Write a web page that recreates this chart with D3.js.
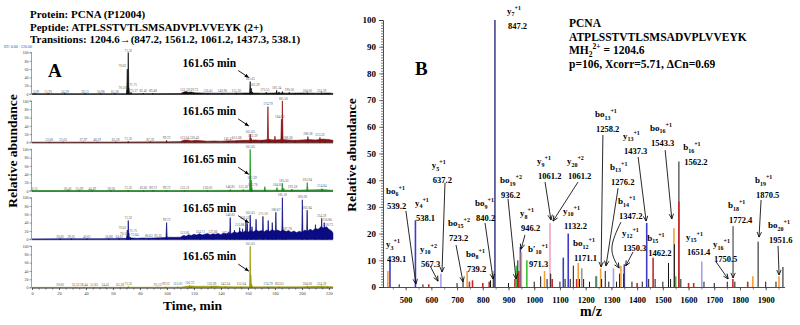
<!DOCTYPE html>
<html>
<head>
<meta charset="utf-8">
<script src="https://cdn.jsdelivr.net/npm/d3@7/dist/d3.min.js"></script>
<style>
html,body{margin:0;padding:0;background:#fff;}
svg{display:block;}
text{font-family:"Liberation Serif","Times New Roman",Times,serif;}
</style>
</head>
<body>
<svg id="chart" width="800" height="325"></svg>
<script>
// ================= DATA =================
const titleLines = [
  'Protein: PCNA (P12004)',
  'Peptide: ATPLSSTVTLSMSADVPLVVEYK (2+)',
  'Transitions: 1204.6\u2192(847.2, 1561.2, 1061.2, 1437.3, 538.1)'
];
const timeTicks = [0,20,40,60,80,100,120,140,160,180,200,220];
const abundTicks = [0,20,40,60,80,100];
const targetTime = 161.65;
const targetLabel = '161.65 min';

// chromatogram peaks: [time (min), relative abundance (%)]
const chromPeaks1 = [[2.09,0.8],[11.93,0.8],[24.39,0.8],[39.13,0.8],[50.96,0.8],[61.38,0.8],
  [70.50,10],[70.62,60],[71.32,100],[71.71,15],[73.37,4],[82.42,1.5],[89.48,1.5],
  [113.12,5],[115,4],[119.72,3],[130.41,2],[140.96,2],[151.30,3],[158,2],
  [161.65,30],[162.39,14],[163.2,5],[173.55,4],[181.24,9],[183,5],[185.5,6],
  [190.56,4],[195,2],[204.00,3],[214.59,3],[218,2]];
const chromPeaks2 = [[12.68,0.8],[23.03,0.8],[37.97,0.8],[48.29,0.8],[62,1.5],[71.32,3],
  [87.59,2],[99.72,5],[113.04,6],[120.45,4],[145.47,3],[151.68,4],[161.65,20],[162.39,10],
  [170,6],[174.79,86],[176,8],[180,15],[184.83,56],[185.50,100],[188.38,6],[195,5],
  [204.4,14],[213.33,12],[217,6]];
const chromPeaks3 = [[0.15,0.8],[26.40,0.8],[35.09,0.8],[44.49,0.8],[58.56,0.8],
  [71.32,2],[82.62,1],[89.73,1],[99.72,1.5],[113.12,1.5],[130.02,1],[146.85,3],[156.5,3],
  [161.65,100],[162.39,26],[162.78,9],[172.5,10],[181.5,8],[185.50,18],[186.5,6],
  [192.58,4],[203.94,20],[214.84,5]];
const chromPeaks4 = [[20.82,0.8],[29.05,0.8],[40.61,0.8],[56.88,1],[64.65,1],[70.50,8],
  [70.62,22],[71.32,45],[71.71,15],[72.84,5],[86.63,3],[93.32,3],[99.72,40],[113.06,9],
  [124.71,12],[134,12],[144,10],[146.85,52],[150,22],[153.86,28],[156,25],
  [158.52,45],[159.5,38],[161.65,58],[163,30],[166,48],[171.10,55],[175,45],[178,40],
  [180.67,65],[185.50,100],[187.78,20],[200.28,95],[203.84,70],[210,35],[214.59,50],
  [216.5,40],[218.7,28]];
const chromPeaks5 = [[20.82,0.8],[32.32,0.8],[38.44,1.5],[46,0.8],[54.41,1.5],[65.28,0.8],
  [71.32,3],[93.12,1],[99.22,2],[108,2],[116.72,6],[118,4],[133.09,4],[143.24,2],
  [155.04,2],[161.65,100],[162.1,30],[162.8,8],[174.79,2],[183.03,2],[204.00,4],
  [214.59,4],[219,3]];

// retention-time labels printed above peaks: [time, abundance, text]
const chromLabels1 = [[3,1.5,'2.09'],[11.93,1.5,'11.93'],[24.39,1.5,'24.39'],[39.13,1.5,'39.13'],
  [50.96,1.5,'50.96'],[61.38,1.5,'61.38'],[67,12,'70.50'],[67,63,'70.62'],[71.32,101,'71.32'],
  [75,18,'71.71'],[75.5,4,'73.37'],[82.42,3,'82.42'],[89.48,3,'89.48'],[113.12,7,'113.12'],
  [119.72,5,'119.72'],[130.41,3,'130.41'],[140.96,3,'140.96'],[151.30,4,'151.30'],
  [161.65,32,'161.65'],[165,17,'162.39'],[172.5,6,'173.55'],[181.24,11,'181.24'],
  [190.56,6,'190.56'],[204.00,4,'204.00'],[214.59,4,'214.59']];
const chromLabels2 = [[12.68,1.5,'12.68'],[23.03,1.5,'23.03'],[37.97,1.5,'37.97'],[48.29,1.5,'48.29'],
  [62,2.5,'65.28'],[71.32,4.5,'71.32'],[87.59,3,'87.59'],[99.72,7,'99.72'],[113.04,8,'113.04'],
  [120.45,6,'120.45'],[145.47,4,'145.47'],[151.68,6,'151.68'],[161.65,22,'161.65'],
  [163.5,12,'162.39'],[174.79,88,'174.79'],[183.5,58,'184.83'],[186,102,'185.50'],
  [189.5,7,'188.38'],[204.4,16,'208.38'],[213.3,14,'213.33']];
const chromLabels3 = [[2,1.5,'0.15'],[26.40,1.5,'26.40'],[35.09,1.5,'35.09'],[44.49,1.5,'44.49'],
  [58.56,1.5,'58.56'],[71.32,3.5,'71.32'],[82.62,2.5,'82.62'],[89.73,2.5,'89.73'],[99.72,3.5,'99.72'],
  [113.12,3,'113.12'],[130.02,2.5,'130.02'],[146.85,5,'146.85'],[156.5,5,'151.30'],
  [161.65,101,'161.65'],[163,28,'162.39'],[163.5,11,'162.78'],[182,10,'184.83'],
  [186.5,20,'185.50'],[193,6,'192.58'],[203.94,22,'203.94'],[214.84,7,'214.84']];
const chromLabels4 = [[20.82,1.5,'20.82'],[29.05,1.5,'29.05'],[40.61,1.5,'40.61'],[56.88,2.5,'56.88'],
  [64.65,2.5,'64.65'],[67,24,'70.62'],[68,10,'70.50'],[71.32,47,'71.32'],[75,17,'71.71'],
  [76,7,'72.84'],[86.63,5,'86.63'],[93.32,5,'93.32'],[99.72,42,'99.72'],[113.06,11,'113.06'],
  [124.71,14,'124.71'],[134,14,'127.66'],[144,12,'132.58'],[146.85,54,'146.85'],
  [153.86,30,'153.86'],[157.5,47,'158.52'],[161.65,60,'161.65'],[171.10,57,'171.10'],
  [180.67,67,'180.67'],[185.50,102,'185.50'],[189,22,'187.78'],[200.28,97,'200.28'],
  [203.84,72,'203.84'],[214.59,52,'214.59'],[218.5,42,'216.86'],[219.5,30,'218.73']];
const chromLabels5 = [[20.82,1.5,'20.82'],[32.32,1.5,'32.32'],[38.44,3.5,'38.44'],[46,1.5,'51.85'],
  [54.41,3.5,'54.41'],[65.28,1.5,'65.28'],[71.32,5,'71.32'],[93.12,3,'93.12'],[99.22,4,'99.22'],
  [108,4,'113.03'],[116.72,8,'116.72'],[133.09,6,'133.09'],[143.24,4,'143.24'],[155.04,4,'155.04'],
  [161.65,101,'161.65'],[174.79,4,'174.79'],[183.03,4,'183.03'],[204.00,6,'204.00'],[214.59,6,'214.59']];

// chromatogram noise envelopes: [time, level %]
const chromNoise1 = [[0,0.6],[40,0.6],[80,0.8],[110,1],[112,4],[114,6],[116,4],[118,5],[120,3],[125,2.5],
  [130,2],[140,2],[150,2],[160,2.5],[170,2],[180,2.5],[190,2],[200,2.5],[210,2],[220,2.5],[223,1.5]];
const chromNoise2 = [[0,0.6],[60,0.8],[100,1.5],[110,2],[112,5],[115,6],[118,4],[122,5],[126,4],[130,3],
  [135,3.5],[140,3],[145,4],[150,4],[155,5],[160,5],[165,6],[170,5],[175,7],[180,6],[185,7],[190,6],
  [195,5],[200,6],[205,7],[210,6],[215,8],[220,7],[223,5]];
const chromNoise3 = [[0,0.5],[60,0.6],[110,0.8],[130,1],[150,1.2],[160,1.5],[180,1.5],[200,1.8],[210,2.5],
  [215,3],[220,2],[223,1.5]];
const chromNoise4 = [[0,0.5],[20,0.8],[50,1],[65,1.5],[70,2],[74,3],[78,2],[82,3],[86,2.5],[90,3],[95,3.5],
  [98,4],[101,5],[105,4.5],[110,5],[112,9],[114,7],[116,11],[118,9],[120,12],[122,10],[124,13],[126,10],
  [128,12],[130,14],[132,11],[134,13],[136,12],[138,14],[140,11],[142,15],[144,13],[146,17],[148,14],
  [150,18],[152,15],[154,19],[156,16],[158,20],[160,17],[162,21],[164,18],[166,22],[168,19],[170,21],
  [172,18],[174,22],[176,19],[178,23],[180,20],[182,22],[184,19],[186,23],[188,18],[190,21],[192,17],
  [194,20],[196,16],[198,19],[200,17],[202,22],[204,19],[206,24],[208,21],[210,26],[212,24],[214,30],
  [216,27],[218,30],[220,24],[222,20],[223,15]];
const chromNoise5 = [[0,0.6],[60,0.8],[110,1],[114,3],[118,4],[122,3],[128,3.5],[132,3],[136,4],[140,2.5],
  [150,2],[160,2],[180,2],[200,2],[210,3],[215,3.5],[220,2.5],[223,2]];

// MS/MS spectrum
const mzTicks = [500,600,700,800,900,1000,1100,1200,1300,1400,1500,1600,1700,1800,1900];
const intTicks = [0,10,20,30,40,50,60,70,80,90,100];
// [m/z, relative abundance %, ion colour class]
const specPeaks = [[431,6,'o'],[439.1,10,'b'],[475,1,'k'],[538.1,25,'b'],[567.3,1,'k'],[590,1,'r'],
  [637.2,5,'l'],[700,1.5,'k'],[723.2,2,'k'],[739.2,6,'o'],[748,2,'r'],[760,2.5,'r'],[800,1.5,'r'],
  [825,2,'r'],[830,2.5,'k'],[840.2,6,'t'],[843,4,'k'],[847.2,100,'n'],[900,1.5,'k'],[925,3,'r'],
  [931,8,'g'],[936.2,10,'k'],[940,6,'r'],[946.2,15,'b'],[950,13,'o'],[971.3,10,'g'],[1000,2,'k'],
  [1025,4,'k'],[1040,6,'o'],[1050,3,'k'],[1061.2,24,'p'],[1064,5,'k'],[1070,3,'r'],[1100,2,'k'],
  [1113,11,'b'],[1120,3,'k'],[1132.2,20,'b'],[1140,3,'k'],[1152,8,'k'],[1165,3,'r'],[1171.1,9,'o'],
  [1176,3,'k'],[1185,7,'s'],[1192,3,'k'],[1215,2,'k'],[1240,4,'d'],[1242,4,'d'],[1258.2,7,'o'],
  [1262,3,'k'],[1276.2,6,'k'],[1290,2,'k'],[1308,7,'l'],[1320,2,'k'],[1332,5,'k'],[1337,8,'o'],
  [1347.2,5,'k'],[1350.3,8.5,'n'],[1380,2,'k'],[1400,1.5,'r'],[1420,2,'k'],[1437.3,24,'b'],
  [1445,3,'k'],[1462.2,11,'r'],[1470,3,'k'],[1500,2,'k'],[1522,9,'k'],[1530,3,'k'],[1543.3,22,'o'],
  [1545,16,'k'],[1550,4,'g'],[1562.5,47,'k'],[1562.2,32,'r'],[1570,3,'k'],[1600,1.5,'r'],[1620,1.5,'r'],
  [1651.4,9.5,'l'],[1660,2,'k'],[1700,1.5,'k'],[1750.5,2,'k'],[1772.4,3,'r'],[1780,2,'k'],[1830,2,'r'],
  [1850,4,'o'],[1870.5,17,'k'],[1900,2,'k'],[1940,2,'k'],[1951.6,4,'o'],[1967,7.5,'k']];

// ion annotations: [ion, subscript, charge, m/z text, label m/z, label abundance]
const ionLabels = [
  ['y','3','+1','439.1',424,15.7], ['bo','6','+1','539.2',424,35.6], ['y','4','+1','538.1',536,31.1],
  ['y','10','+2','567.3',556,13.9], ['y','5','+1','637.2',602,45.3], ['bo','15','+2','723.2',665,23.6],
  ['bo','8','+1','739.2',735,12], ['bo','9','+1','840.2',770,31], ['bo','19','+2','936.2',867,39.7],
  ['y','8','+1','946.2',945,27.3], ['b\u2032','10','+1','971.3',976,13.9], ['y','9','+1','1061.2',1011,46.8],
  ['y','20','+2','1061.2',1127,46.8], ['y','10','+1','1132.2',1112,28.1], ['bo','12','+1','1171.1',1151,16.1],
  ['bo','13','+1','1258.2',1236,64.4], ['b','13','+1','1276.2',1295,44.6], ['b','14','+1','1347.2',1326,31.8],
  ['y','12','+1','1350.3',1341,19.9], ['y','13','+1','1437.3',1345,56.2], ['bo','16','+1','1543.3',1450,59.2],
  ['b','16','+1','1562.2',1579,52], ['b','15','+1','1462.2',1439,18], ['y','15','+1','1651.4',1590,18.4],
  ['y','16','+1','1750.5',1695,15.7], ['b','18','+1','1772.4',1753,30.3], ['b','19','+1','1870.5',1858,39.7],
  ['bo','20','+1','1951.6',1909,22.8], ['y','7','+1','847.2',894,103]
];
// leader arrows: list of [m/z, abundance] points from label to peak
const ionArrows = [
  [[501,28.5],[540,1.1]], [[595,7.9],[626,2.2]], [[653,39],[641.4,5.6]], [[696,15.7],[723,1.9]],
  [[808.6,24],[840,3]], [[898,33],[929,3]], [[964,19.5],[949,14.2]], [[1042,39.3],[1065,25.1]],
  [[1170,39.3],[1073,24.7]], [[1267,56.9],[1260,7.5]], [[1326,37],[1279,7.9]],
  [[1337,24.3],[1302,14.6],[1330,7.1]], [[1384,13.1],[1356,7.9]], [[1404,48.7],[1435,24.7]],
  [[1509,51.3],[1535,25.5]], [[1707,9.4],[1754,3]], [[1773,22.8],[1773,3.4]], [[1882,32.6],[1874,18.7]],
  [[1948,15.4],[1952,4.5]]
];
const infoProtein = 'PCNA';
const infoPeptide = 'ATPLSSTVTLSMSADVPLVVEYK';
const infoMass = '1204.6';
const infoScores = 'p=106, Xcorr=5.71,  \u0394Cn=0.69';

// ================= DRAW =================
const svg = d3.select('#chart');
const defs = svg.append('defs');
defs.append('marker').attr('id','headA').attr('viewBox','0 0 10 10').attr('refX',9).attr('refY',5)
  .attr('markerWidth',5).attr('markerHeight',5).attr('orient','auto')
  .append('path').attr('d','M0,1L10,5L0,9Z').attr('fill','#000');
defs.append('marker').attr('id','chev').attr('viewBox','0 0 10 10').attr('refX',9).attr('refY',5)
  .attr('markerWidth',7).attr('markerHeight',7).attr('orient','auto')
  .append('path').attr('d','M1,1.5L9,5L1,8.5').attr('fill','none').attr('stroke','#000').attr('stroke-width',1.3);

// ---- Panel A ----
const gT = svg.append('g');
titleLines.forEach((t,i)=>{
  gT.append('text').attr('x',30).attr('y',18 + i*12.5).attr('font-size',11).attr('font-weight','bold').text(t);
});
svg.append('text').attr('x',4).attr('y',48).attr('font-size',4).attr('fill','#3355aa').text('RT: 0.00 - 220.00');

const xA = d3.scaleLinear().domain([0,223]).range([32,333]);
const panelsA = [
  {peaks:chromPeaks1, labels:chromLabels1, noise:chromNoise1, color:'#111111'},
  {peaks:chromPeaks2, labels:chromLabels2, noise:chromNoise2, color:'#8b1212'},
  {peaks:chromPeaks3, labels:chromLabels3, noise:chromNoise3, color:'#16901a'},
  {peaks:chromPeaks4, labels:chromLabels4, noise:chromNoise4, color:'#0b0b82'},
  {peaks:chromPeaks5, labels:chromLabels5, noise:chromNoise5, color:'#9a9a06'}
];
panelsA.forEach((p,i)=>{
  const top = 52.5 + i*48.4, base = top + 41.5;
  const y = d3.scaleLinear().domain([0,100]).range([base, top]);
  const g = svg.append('g');
  g.append('path').datum(p.noise)
    .attr('d', d3.area().x(d=>xA(d[0])).y0(base).y1(d=>y(d[1])))
    .attr('fill', p.color).attr('stroke',p.color).attr('stroke-width',0.5);
  g.selectAll('path.pk').data(p.peaks).join('path').attr('class','pk')
    .attr('d', d=>`M${xA(d[0]-0.45)},${base}L${xA(d[0])},${y(d[1])}L${xA(d[0]+0.45)},${base}Z`)
    .attr('fill',p.color).attr('stroke',p.color).attr('stroke-width',0.7).attr('stroke-linejoin','miter');
  g.append('line').attr('x1',xA(0)).attr('x2',xA(223)).attr('y1',base+0.5).attr('y2',base+0.5)
    .attr('stroke','#222').attr('stroke-width',0.8);
  const ax = d3.axisLeft(y).tickValues(abundTicks).tickSize(2).tickPadding(1);
  const ga = g.append('g').attr('transform',`translate(${xA(0)-0.5},0)`).call(ax);
  ga.selectAll('text').attr('font-size',4).attr('fill','#444');
  ga.selectAll('line,path').attr('stroke','#444').attr('stroke-width',0.5);
  ga.select('path.domain').attr('d',`M-2,${y(100)}H0V${base}H-2`);
  g.selectAll('text.pl').data(p.labels).join('text').attr('class','pl')
    .attr('x',d=>xA(d[0])).attr('y',d=>y(d[1])-0.5).attr('text-anchor','middle')
    .attr('font-size',3.4).attr('fill','#555').text(d=>d[2]);
  const tx = xA(targetTime);
  g.append('text').attr('x',tx-14).attr('y',top+14).attr('text-anchor','end')
    .attr('font-size',11.5).attr('font-weight','bold').text(targetLabel);
  g.append('line').attr('x1',tx-12).attr('y1',top+18).attr('x2',tx-1.5).attr('y2',top+25)
    .attr('stroke','#000').attr('stroke-width',0.9).attr('marker-end','url(#headA)');
  if (i===4) {
    const bx = d3.axisBottom(xA).tickValues(timeTicks).tickSize(2).tickPadding(1.5);
    const gb = g.append('g').attr('transform',`translate(0,${base+0.5})`).call(bx);
    gb.selectAll('text').attr('font-size',4.5).attr('fill','#444');
    gb.selectAll('line').attr('stroke','#333').attr('stroke-width',0.6);
    gb.select('path.domain').remove();
    const mx = d3.axisBottom(xA).tickValues(d3.range(0,221,5)).tickSize(1.5).tickFormat('');
    const gm = g.append('g').attr('transform',`translate(0,${base+0.5})`).call(mx);
    gm.selectAll('line').attr('stroke','#333').attr('stroke-width',0.6);
    gm.select('path.domain').remove();
  }
});
svg.append('text').attr('x',48).attr('y',77).attr('font-size',19).attr('font-weight','bold').text('A');
svg.append('text').attr('transform','translate(17,151) rotate(-90)').attr('text-anchor','middle')
  .attr('font-size',13.5).attr('font-weight','bold').text('Relative abundance');
svg.append('text').attr('x',192.5).attr('y',310).attr('text-anchor','middle')
  .attr('font-size',13.5).attr('font-weight','bold').text('Time, min');

// ---- Panel B ----
const xB = d3.scaleLinear().domain([412,1975]).range([383,785]);
const yB = d3.scaleLinear().domain([0,100]).range([287,20]);
const ionColor = {o:'#f2a03c', b:'#3c3cc8', k:'#141414', r:'#c42a2a', l:'#a2a2ea', t:'#c9a678',
  n:'#45458f', g:'#3cc03c', p:'#f2a2c4', s:'#9a9a9a', d:'#4f8a78'};
const gB = svg.append('g');
gB.selectAll('line.pk').data(specPeaks).join('line').attr('class','pk')
  .attr('x1',d=>xB(d[0])).attr('x2',d=>xB(d[0])).attr('y1',yB(0)).attr('y2',d=>yB(d[1]))
  .attr('stroke',d=>ionColor[d[2]]).attr('stroke-width',d=>d[2]==='k'?1:1.6);

const yAx = gB.append('g').attr('transform',`translate(${xB(412)},0)`)
  .call(d3.axisLeft(yB).tickValues(intTicks).tickSize(4).tickPadding(3));
yAx.selectAll('text').attr('font-size',9).attr('font-weight','bold').attr('font-family','"Liberation Serif",serif');
const yMin = gB.append('g').attr('transform',`translate(${xB(412)},0)`)
  .call(d3.axisLeft(yB).tickValues(d3.range(0,101,1)).tickSize(2).tickFormat(''));
yMin.select('path.domain').remove();
const xAx = gB.append('g').attr('transform',`translate(0,${yB(0)+0.5})`)
  .call(d3.axisBottom(xB).tickValues(mzTicks).tickSize(3).tickPadding(6).tickFormat(d3.format('d')));
xAx.selectAll('text').attr('font-size',8.5).attr('font-weight','bold').attr('font-family','"Liberation Serif",serif');
xAx.select('path.domain').attr('d',`M${xB(412)},0H${xB(1975)}`);
const xMin = gB.append('g').attr('transform',`translate(0,${yB(0)+0.5})`)
  .call(d3.axisBottom(xB).tickValues(d3.range(450,1951,50)).tickSize(2).tickFormat(''));
xMin.select('path.domain').remove();
gB.selectAll('path.domain').attr('stroke','#222').attr('stroke-width',0.8);
gB.selectAll('.tick line').attr('stroke','#333').attr('stroke-width',0.6);

const arrowLine = d3.line().x(d=>xB(d[0])).y(d=>yB(d[1])).curve(d3.curveNatural);
gB.selectAll('path.arr').data(ionArrows).join('path').attr('class','arr')
  .attr('d',arrowLine).attr('fill','none').attr('stroke','#111').attr('stroke-width',0.9)
  .attr('marker-end','url(#chev)');

ionLabels.forEach(d=>{
  const x = xB(d[4]), y = yB(d[5]) + 2;
  const t = gB.append('text').attr('x',x).attr('y',y).attr('font-size',9).attr('font-weight','bold');
  t.append('tspan').text(d[0]);
  t.append('tspan').attr('dy',2.5).attr('font-size',6).text(d[1]);
  t.append('tspan').attr('dy',-6.5).attr('font-size',6).text(d[2]);
  gB.append('text').attr('x',x+1).attr('y',y+15).attr('font-size',8.5).attr('font-weight','bold').text(d[3]);
});

const ix = 569;
gB.append('text').attr('x',ix).attr('y',27).attr('font-size',11.5).attr('font-weight','bold').text(infoProtein);
gB.append('text').attr('x',ix).attr('y',40.5).attr('font-size',11.5).attr('font-weight','bold').text(infoPeptide);
const mt = gB.append('text').attr('x',ix).attr('y',54).attr('font-size',11.5).attr('font-weight','bold');
mt.append('tspan').text('MH');
mt.append('tspan').attr('dy',3).attr('font-size',7.5).text('2');
mt.append('tspan').attr('dy',-8).attr('font-size',7.5).text('2+');
mt.append('tspan').attr('dy',5).text(' = ' + infoMass);
gB.append('text').attr('x',ix).attr('y',67.5).attr('font-size',11.5).attr('font-weight','bold').text(infoScores);

svg.append('text').attr('x',415).attr('y',75).attr('font-size',19).attr('font-weight','bold').text('B');
svg.append('text').attr('transform','translate(356,155) rotate(-90)').attr('text-anchor','middle')
  .attr('font-size',13.5).attr('font-weight','bold').text('Relative abundance');
svg.append('text').attr('x',591).attr('y',316).attr('text-anchor','middle')
  .attr('font-size',14).attr('font-weight','bold').text('m/z');
</script>
</body>
</html>
